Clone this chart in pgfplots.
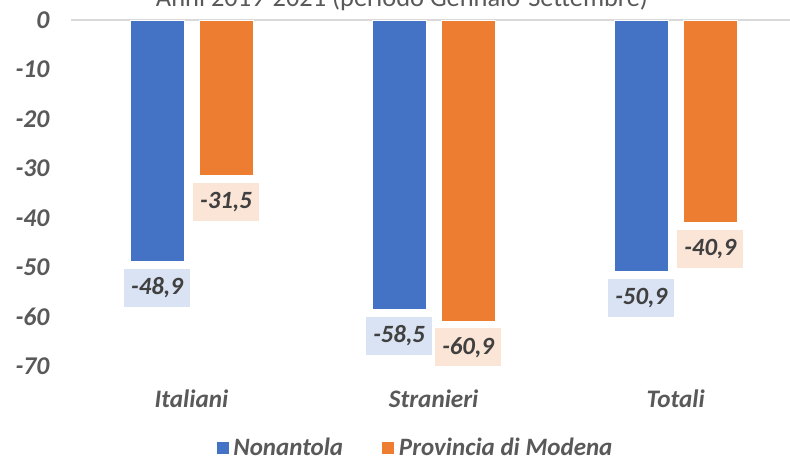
\documentclass[border=0pt]{standalone}
\usepackage{pgfplots}
\pgfplotsset{compat=1.18}
\usepackage{fontspec}
\setmainfont{Carlito}
\definecolor{cblue}{HTML}{4472C4}
\definecolor{corange}{HTML}{ED7D31}
\definecolor{lblue}{HTML}{DAE3F3}
\definecolor{lorange}{HTML}{FBE5D6}
\definecolor{tgrey}{HTML}{595959}
\definecolor{dgrey}{HTML}{404040}
\definecolor{grid}{HTML}{D9D9D9}
\begin{document}
\begin{tikzpicture}
\path[use as bounding box] (0,0) rectangle (395pt,229.5pt);
\node[anchor=base, inner sep=0pt, text=tgrey, font=\fontsize{13.2pt}{15pt}\selectfont] at (201pt,226.25pt) {Anni 2019-2021 (periodo Gennaio-Settembre)};
\begin{axis}[
  at={(35.25pt,46.5pt)}, anchor=south west,
  scale only axis, width=359.5pt, height=173pt,
  xmin=-0.5, xmax=2.47, ymin=-70, ymax=0,
  axis line style={draw=none},
  major tick length=0pt,
  ytick={-70,-60,-50,-40,-30,-20,-10,0},
  yticklabels={-70,-60,-50,-40,-30,-20,-10,0},
  yticklabel style={anchor=east, xshift=-7pt, text=tgrey, font=\fontsize{12.8pt}{14pt}\selectfont\bfseries\itshape},
  xtick={0,1,2},
  xticklabels={Italiani,Stranieri,Totali},
  xticklabel style={anchor=base, yshift=-21pt, text=tgrey, font=\fontsize{12.6pt}{14pt}\selectfont\bfseries\itshape},
  ybar, bar width=27pt,
  point meta=explicit symbolic,
  nodes near coords={\pgfplotspointmeta},
  every node near coord/.append style={anchor=north, yshift=-3.5pt, minimum width=33pt, minimum height=19pt, inner sep=1pt, text=dgrey, font=\fontsize{12.4pt}{15pt}\selectfont\bfseries\itshape},
  legend style={at={(0.4805,-0.238)}, anchor=center, draw=none, fill=none, legend columns=2,
    font=\fontsize{12.5pt}{14pt}\selectfont\bfseries\itshape, text=tgrey,
    /tikz/every even column/.append style={column sep=17pt}},
  legend image code/.code={\fill[#1] (0pt,-3.25pt) rectangle (6.5pt,3.25pt);},
  clip=false,
]
\draw[grid, line width=0.8pt] (axis cs:-0.5,0) -- (axis cs:2.47,0);
\addplot[fill=cblue, draw=white, line width=0.4pt, bar shift=-17.25pt,
  every node near coord/.append style={fill=lblue}] coordinates {
  (0,-48.9) [-48,9]
  (1,-58.5) [-58,5]
  (2,-50.9) [-50,9]
};
\addplot[fill=corange, draw=white, line width=0.4pt, bar shift=17.25pt,
  every node near coord/.append style={fill=lorange}] coordinates {
  (0,-31.5) [-31,5]
  (1,-60.9) [-60,9]
  (2,-40.9) [-40,9]
};
\legend{Nonantola,Provincia di Modena}
\end{axis}
\end{tikzpicture}
\end{document}
